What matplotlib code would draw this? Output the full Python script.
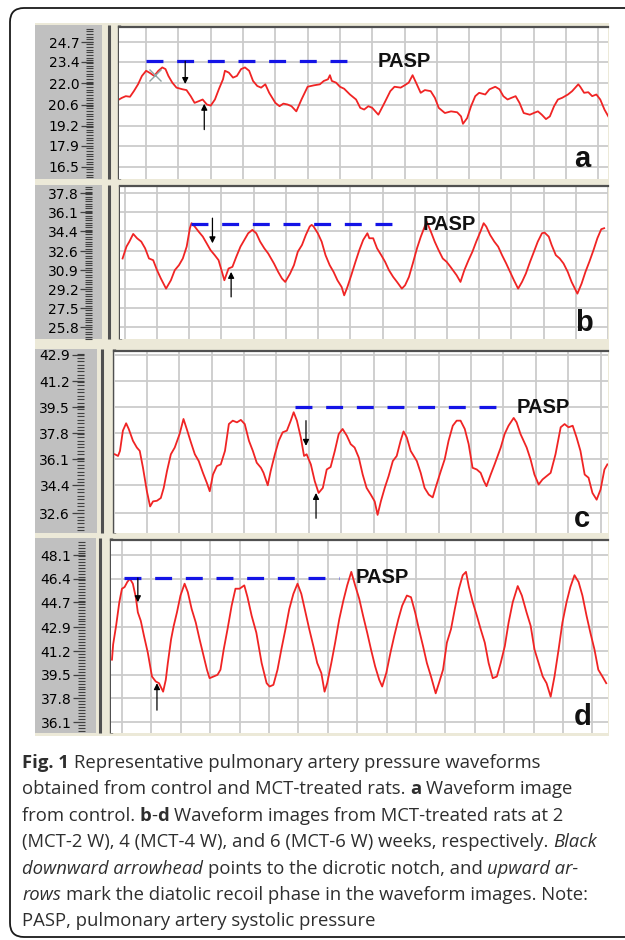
import matplotlib
matplotlib.use("Agg")
import matplotlib.pyplot as plt
from matplotlib.patches import Rectangle, FancyBboxPatch
from matplotlib.ticker import MultipleLocator, AutoMinorLocator

# ---------------- data (time in grid divisions, pressure in mmHg) ----------------
a_wave = [(-0.84,20.93),(-0.75,21.04),(-0.63,21.15),(-0.50,21.11),(-0.38,21.48),(-0.25,21.93),
          (-0.13,22.48),(0.00,22.82),(0.13,22.66),(0.25,22.48),(0.38,22.82),(0.50,23.04),(0.60,22.93),
          (0.69,22.48),(0.81,22.04),(0.94,21.71),(1.13,21.60),(1.25,21.55),(1.38,21.15),(1.50,20.71),
          (1.63,20.82),(1.75,20.93),(1.88,20.60),(2.00,20.53),(2.13,20.93),(2.25,21.60),(2.38,22.26),
          (2.44,22.82),(2.56,22.70),(2.69,22.37),(2.81,22.48),(2.94,22.93),(3.06,23.04),(3.19,22.82),
          (3.31,22.15),(3.44,21.82),(3.56,21.71),(3.69,21.93),(3.81,21.37),(4.00,20.71),(4.13,20.49),
          (4.25,20.66),(4.38,20.60),(4.50,20.49),(4.65,20.15),(4.81,20.93),(5.00,21.77),(5.19,21.86),
          (5.38,21.93),(5.50,22.15),(5.63,22.26),(5.69,22.53),(5.75,22.15),(5.88,22.04),(6.00,21.77),
          (6.13,21.64),(6.31,21.26),(6.50,20.93),(6.63,20.38),(6.75,20.27),(6.88,20.49),(7.00,20.38),
          (7.19,19.93),(7.38,20.71),(7.56,21.48),(7.69,21.77),(7.88,21.71),(8.00,21.86),(8.13,22.04),
          (8.25,22.53),(8.38,21.93),(8.50,21.37),(8.63,21.55),(8.81,21.48),(8.94,21.04),(9.06,20.38),
          (9.25,20.04),(9.44,20.15),(9.63,20.09),(9.75,19.82),(9.81,19.33),(9.94,19.71),(10.06,20.49),
          (10.19,21.15),(10.31,21.37),(10.50,21.26),(10.63,21.60),(10.81,21.77),(10.94,21.60),
          (11.06,21.15),(11.19,20.93),(11.31,21.04),(11.44,21.15),(11.56,20.71),(11.69,20.04),
          (11.88,19.93),(12.00,20.04),(12.13,20.15),(12.25,19.93),(12.38,19.64),(12.50,19.82),
          (12.63,20.49),(12.75,20.93),(12.88,21.04),(13.06,21.26),(13.19,21.48),(13.38,21.93),
          (13.44,21.77),(13.56,21.37),(13.69,21.41),(13.81,21.15),(13.94,21.26),(14.06,20.93),
          (14.19,20.27),(14.31,19.82)]

b_wave = [(-1.07,31.94),(-0.95,33.00),(-0.86,33.45),(-0.74,34.14),(-0.62,33.75),(-0.49,33.45),
          (-0.37,32.85),(-0.25,31.94),(-0.12,31.79),(0.00,30.89),(0.12,30.14),(0.28,29.24),(0.43,29.99),
          (0.55,30.89),(0.68,31.34),(0.80,31.94),(0.92,33.00),(1.02,34.65),(1.07,35.10),(1.17,34.80),
          (1.29,34.35),(1.42,33.90),(1.54,33.30),(1.66,32.69),(1.79,32.24),(1.91,31.79),(2.03,30.59),
          (2.09,29.99),(2.22,31.04),(2.34,31.19),(2.46,32.09),(2.59,33.00),(2.71,33.60),(2.83,34.20),
          (2.96,34.50),(3.08,34.20),(3.20,33.45),(3.33,32.85),(3.45,32.39),(3.63,31.49),(3.76,30.74),
          (3.88,30.14),(3.98,29.84),(4.13,30.59),(4.25,31.34),(4.37,32.54),(4.50,33.15),(4.62,34.05),
          (4.74,34.80),(4.80,34.95),(4.86,34.80),(4.99,34.20),(5.11,33.45),(5.23,32.24),(5.36,31.34),
          (5.48,30.74),(5.60,29.99),(5.73,29.39),(5.81,28.64),(5.91,29.39),(6.03,30.44),(6.16,31.64),
          (6.28,32.69),(6.40,33.60),(6.53,34.20),(6.59,33.75),(6.71,33.75),(6.83,32.85),(6.96,32.24),
          (7.08,31.64),(7.20,30.89),(7.33,30.29),(7.45,29.84),(7.60,29.24),(7.70,29.54),(7.82,30.29),
          (7.94,31.49),(8.07,32.85),(8.19,33.90),(8.31,34.80),(8.37,35.25),(8.50,34.35),(8.62,33.45),
          (8.74,32.69),(8.87,31.94),(8.99,31.64),(9.11,31.19),(9.30,30.44),(9.42,29.84),(9.54,30.89),
          (9.67,31.79),(9.79,32.54),(9.91,33.45),(10.04,34.35),(10.14,35.10),(10.22,34.80),(10.34,34.05),
          (10.47,33.45),(10.59,33.00),(10.71,32.24),(10.84,31.49),(10.96,30.74),(11.08,29.99),
          (11.21,29.24),(11.33,29.84),(11.45,30.59),(11.58,31.64),(11.70,32.54),(11.82,33.45),
          (11.95,34.20),(12.03,34.26),(12.16,33.90),(12.25,33.15),(12.38,32.24),(12.50,31.94),
          (12.62,31.49),(12.75,30.74),(12.87,29.84),(13.05,28.79),(13.18,29.69),(13.30,30.74),
          (13.42,31.64),(13.55,32.69),(13.67,33.75),(13.79,34.56),(13.88,34.65)]

c_wave = [(-0.99,36.43),(-0.89,36.32),(-0.83,36.65),(-0.74,37.97),(-0.64,38.45),(-0.56,38.08),
          (-0.43,37.31),(-0.31,36.87),(-0.22,36.65),(-0.12,35.55),(0.00,34.02),(0.10,33.03),(0.19,33.36),
          (0.31,33.40),(0.43,33.58),(0.52,34.24),(0.62,35.33),(0.74,36.43),(0.86,36.87),(1.01,37.75),
          (1.13,38.73),(1.23,38.08),(1.36,37.20),(1.48,36.43),(1.60,35.99),(1.73,35.22),(1.85,34.57),
          (1.94,34.02),(2.04,35.11),(2.16,35.66),(2.28,35.77),(2.41,36.65),(2.53,38.40),(2.65,38.62),
          (2.78,38.51),(2.90,38.67),(3.02,38.40),(3.15,37.31),(3.27,36.65),(3.39,35.88),(3.52,35.55),
          (3.60,35.22),(3.73,34.41),(3.82,35.33),(3.95,36.43),(4.07,37.31),(4.19,37.86),(4.32,37.97),
          (4.44,38.62),(4.53,39.17),(4.63,38.62),(4.75,37.53),(4.85,36.32),(4.93,36.43),(5.06,35.77),
          (5.18,34.68),(5.30,33.91),(5.43,34.24),(5.55,35.44),(5.67,35.60),(5.80,36.65),(5.92,37.75),
          (6.04,38.08),(6.17,37.64),(6.29,37.09),(6.41,36.87),(6.54,36.21),(6.66,35.11),(6.78,34.24),
          (6.91,33.80),(7.03,33.36),(7.12,32.48),(7.22,33.36),(7.34,34.24),(7.46,35.01),(7.59,35.99),
          (7.71,36.32),(7.83,37.31),(7.92,37.92),(8.02,37.53),(8.14,36.65),(8.33,35.99),(8.45,35.22),
          (8.57,34.24),(8.70,33.80),(8.82,33.62),(8.94,34.46),(9.07,35.33),(9.19,36.10),(9.31,37.31),
          (9.44,38.29),(9.56,38.62),(9.68,38.62),(9.81,38.08),(9.93,37.09),(10.05,35.55),(10.18,35.44),
          (10.30,35.22),(10.40,34.68),(10.48,34.35),(10.61,35.11),(10.73,35.77),(10.92,36.87),
          (11.04,37.75),(11.16,38.29),(11.32,38.80),(11.41,38.51),(11.53,37.75),(11.72,36.87),
          (11.84,36.10),(11.96,35.11),(12.09,34.46),(12.21,34.79),(12.34,35.01),(12.46,35.22),
          (12.61,36.43),(12.77,38.19),(12.89,38.40),(13.01,38.19),(13.14,38.29),(13.26,37.53),
          (13.38,36.65),(13.51,35.11),(13.63,34.90),(13.75,33.91),(13.88,33.47),(14.00,34.13),
          (14.12,35.44),(14.21,35.77)]

d_wave = [(-0.34,40.58),(-0.30,41.68),(-0.20,43.01),(-0.09,44.71),(0.00,45.68),(0.09,45.80),(0.18,46.16),
          (0.27,46.40),(0.37,46.04),(0.47,45.07),(0.54,43.98),(0.64,43.37),(0.75,42.28),(0.88,41.07),
          (1.02,39.37),(1.15,39.01),(1.26,38.89),(1.40,38.28),(1.49,39.13),(1.56,40.34),(1.67,42.04),
          (1.76,43.01),(1.87,43.98),(1.99,45.19),(2.13,46.04),(2.24,45.43),(2.37,44.22),(2.51,43.25),
          (2.64,42.04),(2.78,40.83),(2.89,39.86),(2.98,39.25),(3.12,39.37),(3.25,39.49),(3.35,39.86),
          (3.46,41.31),(3.59,42.77),(3.73,44.46),(3.86,45.68),(4.00,45.68),(4.16,45.92),(4.27,45.07),
          (4.41,43.74),(4.57,42.52),(4.75,40.34),(4.92,38.89),(5.02,38.65),(5.15,38.77),(5.29,39.86),
          (5.42,41.31),(5.56,42.77),(5.69,44.22),(5.83,45.31),(5.97,46.04),(6.10,45.31),(6.24,43.98),
          (6.37,42.77),(6.51,41.55),(6.64,40.34),(6.78,39.62),(6.89,38.28),(6.98,38.89),(7.12,40.34),
          (7.25,41.80),(7.39,43.49),(7.53,44.83),(7.66,45.92),(7.80,46.89),(7.93,45.92),(8.07,44.95),
          (8.20,43.74),(8.34,42.52),(8.47,41.31),(8.61,40.10),(8.75,39.13),(8.85,38.65),(8.99,39.62),
          (9.13,41.07),(9.26,42.28),(9.40,43.49),(9.53,44.46),(9.69,45.19),(9.83,45.07),(9.97,43.98),
          (10.10,42.77),(10.24,41.55),(10.37,40.34),(10.51,39.37),(10.67,38.16),(10.78,38.89),
          (10.92,39.86),(11.05,41.80),(11.19,42.77),(11.32,44.22),(11.46,45.68),(11.59,46.65),
          (11.70,46.89),(11.80,45.80),(11.93,44.71),(12.07,43.74),(12.20,42.77),(12.34,41.80),
          (12.47,40.34),(12.61,39.25),(12.75,39.37),(12.88,40.34),(13.02,41.55),(13.15,43.25),
          (13.29,44.71),(13.46,45.87),(13.60,45.19),(13.76,43.98),(13.90,43.01),(14.03,41.31),
          (14.17,40.34),(14.31,39.37),(14.44,38.89),(14.58,37.92),(14.71,39.37),(14.85,41.31),
          (14.98,43.25),(15.12,44.71),(15.25,45.80),(15.39,46.65),(15.53,46.16),(15.66,45.19),
          (15.80,43.74),(15.93,42.52),(16.07,41.31),(16.20,39.86),(16.34,39.37),(16.47,38.89)]

a_ticks = [24.7, 23.4, 22.0, 20.6, 19.2, 17.9, 16.5]
b_ticks = [37.8, 36.1, 34.4, 32.6, 30.9, 29.2, 27.5, 25.8]
c_ticks = [42.9, 41.2, 39.5, 37.8, 36.1, 34.4, 32.6]
d_ticks = [48.1, 46.4, 44.7, 42.9, 41.2, 39.5, 37.8, 36.1]

# PASP line: (start time, end time, pressure, label time)
a_pasp = (0.0, 6.63, 23.45, 7.18)
b_pasp = (1.05, 7.64, 35.0, 8.25)
c_pasp = (4.56, 11.10, 39.5, 11.41)
d_pasp = (0.07, 7.39, 46.45, 7.93)

# arrows: (time, tail pressure, tip pressure)
a_arrows = [(1.21, 23.45, 21.95), (1.80, 18.95, 20.65)]
b_arrows = [(1.72, 35.55, 33.30), (2.30, 28.50, 30.74)]
c_arrows = [(4.91, 38.62, 36.98), (5.22, 32.26, 33.91)]
d_arrows = [(0.54, 46.45, 44.71), (1.19, 36.95, 38.89)]

panel_letters = ["a", "b", "c", "d"]

caption_lines = [
    [("Fig. 1", "bold", False), ("Representative pulmonary artery pressure waveforms", "normal", True)],
    [("obtained from control and MCT-treated rats.", "normal", False), ("a", "bold", True),
     ("Waveform image", "normal", True)],
    [("from control.", "normal", False), ("b", "bold", True), ("-", "normal", False), ("d", "bold", False),
     ("Waveform images from MCT-treated rats at 2", "normal", True)],
    [("(MCT-2 W), 4 (MCT-4 W), and 6 (MCT-6 W) weeks, respectively.", "normal", False),
     ("Black", "italic", True)],
    [("downward arrowhead", "italic", False), ("points to the dicrotic notch, and", "normal", True),
     ("upward ar-", "italic", True)],
    [("rows", "italic", False), ("mark the diatolic recoil phase in the waveform images. Note:", "normal", True)],
    [("PASP, pulmonary artery systolic pressure", "normal", False)],
]

# ---------------- layout ----------------
W, H = 625, 940
fig = plt.figure(figsize=(W / 100, H / 100), dpi=100)
bg = fig.add_axes([0, 0, 1, 1])
bg.set_xlim(0, W)
bg.set_ylim(H, 0)
bg.axis("off")

def frac(x0, y0, x1, y1):
    return [x0 / W, 1 - y1 / H, (x1 - x0) / W, (y1 - y0) / H]

bg.add_patch(FancyBboxPatch((10, 8), 700, 929, boxstyle="round,pad=0,rounding_size=14",
                            fc="white", ec="#1a1a1a", lw=1.3))
BEIGE = "#ece9d8"
GRAY = "#c0c0c0"
DARK = "#505050"
bg.add_patch(Rectangle((35, 23), 574, 713, fc=BEIGE, ec="none"))

panels = [
    dict(wave=a_wave, ticks=a_ticks, pasp=a_pasp, arrows=a_arrows,
         box=(119, 27, 608, 179), gray=(35, 25, 102, 179), sep=108.5,
         xlim=(-0.84, 14.3), ylim=(15.7, 25.7), out=19, letter=(590, 167)),
    dict(wave=b_wave, ticks=b_ticks, pasp=b_pasp, arrows=b_arrows,
         box=(120, 186, 608, 339), gray=(35, 185, 102, 339), sep=108.5,
         xlim=(-1.15, 14.0), ylim=(24.73, 38.43), out=20, letter=(593, 331)),
    dict(wave=c_wave, ticks=c_ticks, pasp=c_pasp, arrows=c_arrows,
         box=(113.5, 351, 608, 533), gray=(35, 349, 97, 533), sep=101.5,
         xlim=(-1.03, 14.23), ylim=(31.3, 43.16), out=21.5, letter=(590, 527)),
    dict(wave=d_wave, ticks=d_ticks, pasp=d_pasp, arrows=d_arrows,
         box=(110.5, 540, 608, 733), gray=(35, 538, 96, 733), sep=100,
         xlim=(-0.39, 16.53), ylim=(35.31, 49.18), out=18.5, letter=(592, 725)),
]

for p, letter in zip(panels, panel_letters):
    gx0, gy0, gx1, gy1 = p["gray"]
    bg.add_patch(Rectangle((gx0, gy0), gx1 - gx0, gy1 - gy0, fc=GRAY, ec="none"))
    x0, y0, x1, y1 = p["box"]
    bg.plot([p["sep"], p["sep"]], [gy0, gy1], color=DARK, lw=2.2, solid_capstyle="butt")

    ax = fig.add_axes(frac(x0, y0, x1, y1))
    ax.set_facecolor("white")
    t = [q[0] for q in p["wave"]]
    v = [q[1] for q in p["wave"]]
    ax.plot(t, v, color="#f02424", lw=1.3, zorder=3)
    ax.set_xlim(*p["xlim"])
    ax.set_ylim(*p["ylim"])
    ax.xaxis.set_major_locator(MultipleLocator(1))
    ticks = sorted(p["ticks"])
    ax.set_yticks(ticks, labels=[f"{tk:.1f}" for tk in ticks], fontsize=8.5,
                  fontweight="bold", fontfamily="DejaVu Serif", color="#3c3c3c")
    ax.yaxis.set_minor_locator(AutoMinorLocator(8))
    ax.grid(True, which="major", color="#cbcbcb", lw=1.3, zorder=0)
    ax.set_axisbelow(True)
    ax.tick_params(axis="x", which="both", bottom=False, labelbottom=False)
    ax.tick_params(axis="y", which="major", length=8.5, width=0.9, color="#404040", pad=1.2)
    ax.tick_params(axis="y", which="minor", length=5, width=0.8, color="#404040")
    ax.spines["left"].set_position(("outward", p["out"]))
    ax.spines["left"].set_visible(False)
    ax.spines["right"].set_visible(False)
    ax.spines["bottom"].set_visible(False)
    ax.spines["top"].set_color(DARK)
    ax.spines["top"].set_linewidth(1.6)
    # left border of the trace window
    bg.plot([x0, x0], [gy0, gy1], color=DARK, lw=2.4, solid_capstyle="butt")

    # PASP
    s0, s1, pv, tl = p["pasp"]
    ax.plot([s0, s1], [pv, pv], color="#1414e6", lw=2.3, dashes=(5.3, 4.3),
            dash_capstyle="butt", zorder=4)
    ax.text(tl, pv, "PASP", fontsize=14.5, fontweight="bold", family="Liberation Sans",
            va="center", ha="left", color="#111111", zorder=5)
    for (at, tail, tip) in p["arrows"]:
        ax.annotate("", xy=(at, tip), xytext=(at, tail),
                    arrowprops=dict(arrowstyle="-|>", color="black", lw=0.9,
                                    mutation_scale=9, shrinkA=0, shrinkB=0), zorder=6)
    lx, ly = p["letter"]
    fig.text(lx / W, 1 - ly / H, letter, ha="right", va="baseline", fontsize=21,
             fontweight="bold", family="Liberation Sans", color="#111111")

# cursor mark on panel a
fig.axes[1].plot([0.27], [22.55], marker="x", ms=8, mew=1.0, color="#8fa3a3", zorder=4)

# ---------------- caption ----------------
renderer = fig.canvas.get_renderer()
CAP_FONT = ["Open Sans", "DejaVu Sans"]
CAP_SIZE = 13.3
CAP_COLOR = "#2e2e2e"

def style_kw(style):
    kw = dict(fontsize=CAP_SIZE, family=CAP_FONT, color=CAP_COLOR)
    if style == "bold":
        kw["fontweight"] = "bold"
    elif style == "italic":
        kw["fontstyle"] = "italic"
    return kw

def text_width(s, style):
    tt = bg.text(0, 0, s, **style_kw(style))
    w = tt.get_window_extent(renderer).width
    tt.remove()
    return w

space_w = text_width("n n", "normal") - text_width("nn", "normal")
base0, step = 768, 26.4
for i, line in enumerate(caption_lines):
    x = 22
    y = base0 + i * step
    for seg, style, lead_space in line:
        if lead_space:
            x += space_w
        bg.text(x, y, seg, ha="left", va="baseline", **style_kw(style))
        x += text_width(seg, style)

fig.savefig("out.png", dpi=100)
